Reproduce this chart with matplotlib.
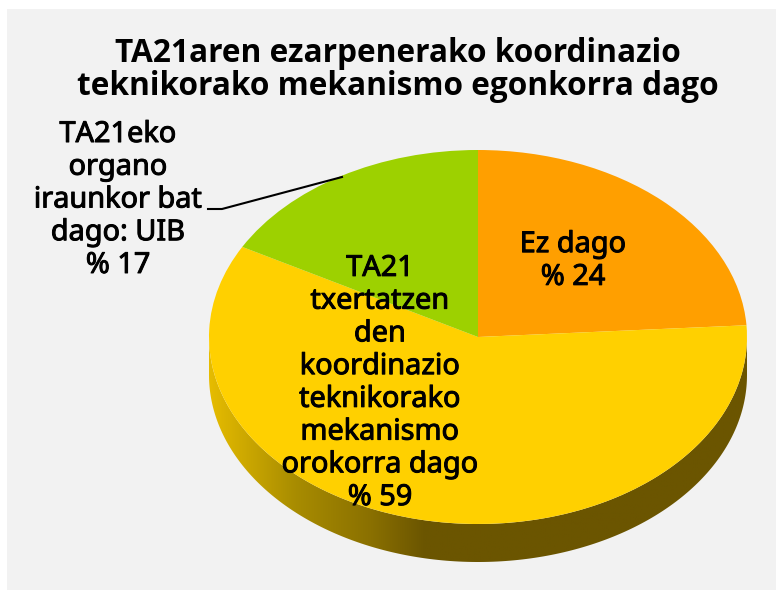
import numpy as np
import matplotlib
matplotlib.use('Agg')
import matplotlib.pyplot as plt
import matplotlib.patheffects as pe
from matplotlib.patches import Polygon, Rectangle
from matplotlib.colors import LinearSegmentedColormap

# Daten
titel = 'TA21aren ezarpenerako koordinazio\nteknikorako mekanismo egonkorra dago'
werte = [24, 59, 17]
farben = ['#ff9f00', '#ffd000', '#9dd100']
label_ez = 'Ez dago\n% 24'
label_orokorra = 'TA21\ntxertatzen\nden\nkoordinazio\nteknikorako\nmekanismo\norokorra dago\n% 59'
label_organo = 'TA21eko\norgano\niraunkor bat\ndago: UIB\n% 17'

B, H = 776, 590
plt.rcParams['font.family'] = ['Noto Sans', 'DejaVu Sans']

fig = plt.figure(figsize=(B / 100, H / 100), dpi=100, facecolor='white')
fig.patches.append(Rectangle((7 / B, 0), 1 - 7 / B, 1 - 9 / H, transform=fig.transFigure,
                             facecolor='#f2f2f2', edgecolor='none', zorder=-5))

# Ellipse: Mitte (478, 337), Radien 269 / 187, alles in Pixeln von oben links
rx, ry = 269, 187
mx, my = 478, 337
tiefe = 38
ax = fig.add_axes([(mx - rx) / B, 1 - (my + ry) / H, 2 * rx / B, 2 * ry / H])
ax.patch.set_alpha(0)
ax.pie(werte, colors=farben, startangle=90, counterclock=False, radius=1,
       wedgeprops={'linewidth': 0})
ax.set_aspect('auto')
ax.set_xlim(-1, 1)
ax.set_ylim(-1, 1)

# Seitenwand des Kuchens mit Verlauf
unter = fig.add_axes([0, 0, 1, 1], zorder=-1)
unter.set_xlim(0, B)
unter.set_ylim(H, 0)
unter.axis('off')
t = np.linspace(np.pi, 2 * np.pi, 200)
x_rand = mx + rx * np.cos(t)
y_rand = my - ry * np.sin(t)
rand = np.r_[np.c_[x_rand, y_rand + tiefe], np.c_[x_rand[::-1], y_rand[::-1]]]
cmap = LinearSegmentedColormap.from_list('wand', [(0, '#e6bc00'), (0.16, '#a88c00'), (0.3, '#8a7000'),
                                                  (0.4, '#6b5500'), (1, '#6b5500')])
bild = unter.imshow(np.linspace(0, 1, 256)[None, :], cmap=cmap, aspect='auto',
                    extent=[mx - rx, mx + rx, my + ry + tiefe, my])
bild.set_clip_path(Polygon(rand, transform=unter.transData))
unter.set_xlim(0, B)
unter.set_ylim(H, 0)

# Texte
text = fig.add_axes([0, 0, 1, 1], zorder=5)
text.set_xlim(0, B)
text.set_ylim(H, 0)
text.axis('off')
dick = [pe.withStroke(linewidth=0.7, foreground='black')]
text.text(398, 70, titel, ha='center', va='center', fontsize=22.8, family='Open Sans',
          fontweight='bold', linespacing=1.0)
text.text(573, 261, label_ez, ha='center', va='center', fontsize=20.8, linespacing=1.17, path_effects=dick)
text.text(380, 383, label_orokorra, ha='center', va='center', fontsize=20.8, linespacing=1.17, path_effects=dick)
text.text(118, 200, label_organo, ha='center', va='center', fontsize=20.8, linespacing=1.17, path_effects=dick)
text.plot([208, 222, 342], [209, 209, 177], color='black', lw=1.5)

fig.savefig('out.png', dpi=100)
